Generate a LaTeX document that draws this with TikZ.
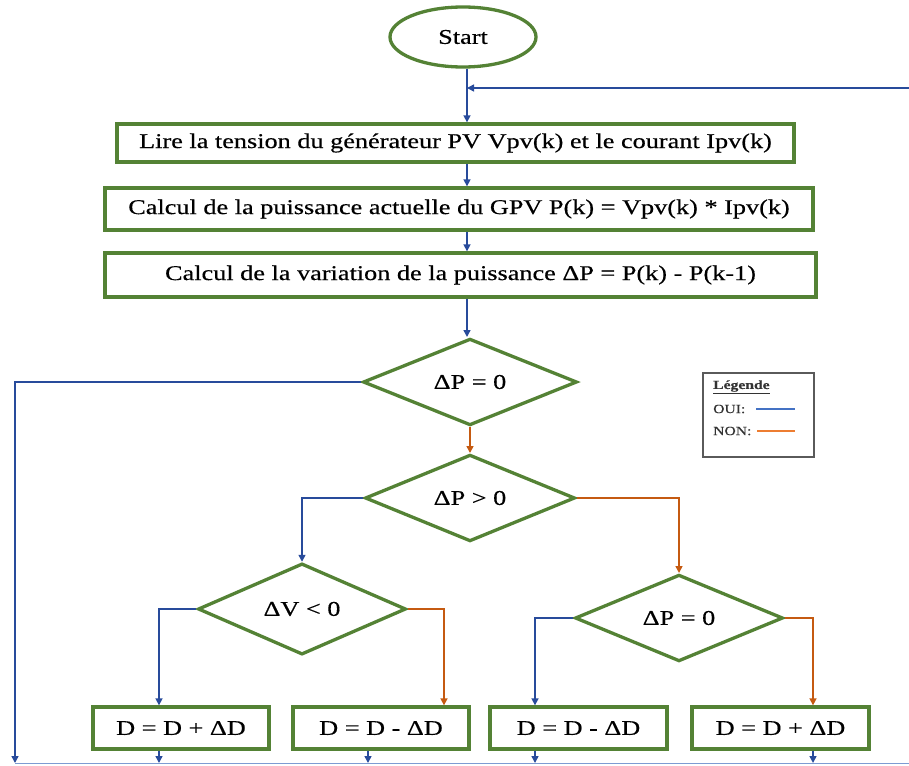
\documentclass[tikz,border=0pt]{standalone}
\usepackage{fontspec}
\setmainfont{Liberation Serif}[FakeStretch=1.25,FakeBold=0.4]
\usetikzlibrary{shapes.geometric,arrows.meta}
\definecolor{boxgreen}{RGB}{84,130,53}
\definecolor{yesblue}{RGB}{40,75,155}
\definecolor{noorange}{RGB}{197,90,17}
\definecolor{baseblue}{RGB}{125,155,210}
\definecolor{legblue}{RGB}{68,114,196}
\definecolor{legorange}{RGB}{237,125,49}
\definecolor{legframe}{RGB}{90,90,90}
\begin{document}
\begin{tikzpicture}[x=1pt,y=-1pt,
  stepbox/.style={rectangle,draw=boxgreen,line width=3.3pt,fill=white,inner sep=0pt,
    font=\fontsize{21}{25}\selectfont},
  testbox/.style={diamond,draw=boxgreen,line width=3.3pt,fill=white,inner sep=0pt,
    font=\fontsize{21}{25}\selectfont},
  yes/.style={draw=yesblue,line width=1.5pt},
  no/.style={draw=noorange,line width=1.5pt},
  tip/.style={-{Triangle[length=7pt,width=7pt]}},
  legtext/.style={anchor=west,inner sep=0pt,text=black!80,font=\fontsize{12.5}{15}\selectfont}]
\useasboundingbox (0,0) rectangle (909,765);

% main column
\coordinate (spine) at (467,0);
\node[ellipse,draw=boxgreen,line width=3.3pt,fill=white,minimum width=146pt,minimum height=60pt,
  inner sep=0pt,font=\fontsize{21}{25}\selectfont] (start) at (463,37) {Start};
\node[stepbox,minimum width=677pt,minimum height=38pt] (read) at (455.5,143)
  {Lire la tension du générateur PV Vpv(k) et le courant Ipv(k)};
\node[stepbox,minimum width=708pt,minimum height=42pt] (power) at (459,209)
  {Calcul de la puissance actuelle du GPV P(k) = Vpv(k) * Ipv(k)};
\node[stepbox,minimum width=711pt,minimum height=44pt] (delta) at (460.5,275)
  {Calcul de la variation de la puissance ΔP = P(k) - P(k-1)};

% decisions
\node[testbox,minimum width=214pt,minimum height=80pt] (zero) at (470,382) {ΔP = 0};
\node[testbox,minimum width=210pt,minimum height=80pt] (pos) at (470,498) {ΔP > 0};
\node[testbox,minimum width=208pt,minimum height=80pt] (dv) at (302,609) {ΔV < 0};
\node[testbox,minimum width=208pt,minimum height=80pt] (zero2) at (679,618) {ΔP = 0};

% duty-cycle updates
\node[stepbox,minimum width=176pt,minimum height=42pt] (inc1) at (181,728) {D = D + ΔD};
\node[stepbox,minimum width=176pt,minimum height=42pt] (dec1) at (381,728) {D = D - ΔD};
\node[stepbox,minimum width=177pt,minimum height=42pt] (dec2) at (578.5,728) {D = D - ΔD};
\node[stepbox,minimum width=177pt,minimum height=42pt] (inc2) at (780.5,728) {D = D + ΔD};

% legend
\node[draw=legframe,line width=1.6pt,fill=white,minimum width=111pt,minimum height=84pt,inner sep=0pt]
  (legend) at (758.5,415) {};
\node[legtext,font=\bfseries\fontsize{12.5}{15}\selectfont] (legtitle) at (713,387) {\underline{Légende}};
\node[legtext] (legyes) at (713,409) {OUI:};
\node[legtext] (legno) at (713,431) {NON:};
\coordinate (legyesA) at (756,409);
\coordinate (legyesB) at (795,409);
\coordinate (legnoA) at (757,431);
\coordinate (legnoB) at (795,431);
\draw[draw=legblue,line width=1.3pt] (legyesA) -- (legyesB);
\draw[draw=legorange,line width=1.3pt] (legnoA) -- (legnoB);

% drop positions and the return bus
\coordinate (loopin) at (909,88);
\coordinate (leftbus) at (15,0);
\coordinate (busL) at (15,763);
\coordinate (busR) at (909,763);
\coordinate (xa) at (159,0);
\coordinate (xb) at (444,0);
\coordinate (xc) at (535,0);
\coordinate (xd) at (813,0);
\coordinate (xe) at (368,0);

% main column arrows
\draw[yes,tip] (start.south -| spine) -- (read.north -| spine);
\draw[yes,tip] (loopin) -- (loopin -| spine);
\draw[yes,tip] (read.south -| spine) -- (power.north -| spine);
\draw[yes,tip] (power.south -| spine) -- (delta.north -| spine);
\draw[yes,tip] (delta.south -| spine) -- (zero.north -| spine);

% branches
\draw[yes,tip] (zero.west) -- (zero.west -| leftbus) -- (busL);
\draw[no,tip] (zero.south) -- (pos.north);
\draw[yes,tip] (pos.west) -| (dv.north);
\draw[no,tip] (pos.east) -| (zero2.north);
\draw[yes,tip] (dv.west) -- (dv.west -| xa) -- (xa |- inc1.north);
\draw[no,tip] (dv.east) -- (dv.east -| xb) -- (xb |- dec1.north);
\draw[yes,tip] (zero2.west) -- (zero2.west -| xc) -- (xc |- dec2.north);
\draw[no,tip] (zero2.east) -- (zero2.east -| xd) -- (xd |- inc2.north);

% outputs to the return bus
\draw[draw=baseblue,line width=1pt] (busL) -- (busR);
\draw[yes,tip] (xa |- inc1.south) -- (xa |- busL);
\draw[yes,tip] (xe |- dec1.south) -- (xe |- busL);
\draw[yes,tip] (xc |- dec2.south) -- (xc |- busL);
\draw[yes,tip] (xd |- inc2.south) -- (xd |- busL);
\end{tikzpicture}
\end{document}
